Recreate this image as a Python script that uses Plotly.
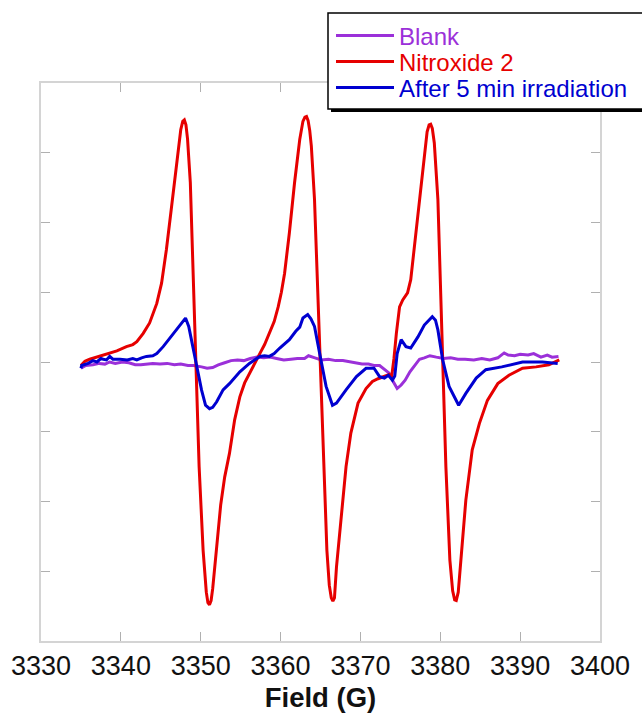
import plotly.graph_objects as go

# ---------------- data ----------------
blank_x = [3335.0, 3335.6, 3336.5, 3337.3, 3338.0, 3338.6, 3339.3, 3340.2, 3341.0, 3341.8,
           3342.5, 3343.3, 3344.0, 3344.9, 3345.8, 3346.7, 3347.5, 3348.4, 3349.1, 3350.1,
           3350.8, 3351.5, 3352.2, 3353.0, 3353.8, 3354.6, 3355.4, 3356.2, 3357.0, 3357.9,
           3358.7, 3359.5, 3360.4, 3361.3, 3362.1, 3363.0, 3363.5, 3364.3, 3365.1, 3366.0,
           3366.9, 3367.8, 3368.6, 3369.4, 3370.2, 3371.0, 3371.7, 3372.4, 3373.0, 3373.6,
           3374.1, 3374.6, 3375.1, 3375.6, 3376.2, 3376.8, 3377.4, 3378.0, 3378.7, 3379.5,
           3380.4, 3381.3, 3382.2, 3383.1, 3384.2, 3385.2, 3386.2, 3387.2, 3388.0, 3388.5,
           3389.3, 3390.0, 3391.0, 3391.7, 3392.6, 3393.4, 3394.0, 3394.8]
blank_y = [-0.09, -0.05, -0.04, -0.02, -0.03, 0.00, -0.02, 0.00, -0.01, -0.04,
           -0.04, -0.03, -0.02, -0.03, -0.02, -0.04, -0.03, -0.05, -0.05, -0.07,
           -0.09, -0.08, -0.04, -0.01, 0.02, 0.03, 0.02, 0.05, 0.07, 0.06,
           0.07, 0.05, 0.03, 0.04, 0.05, 0.05, 0.09, 0.06, 0.03, 0.04,
           0.02, 0.02, 0.00, -0.01, -0.03, -0.03, -0.05, -0.05, -0.10, -0.16,
           -0.28, -0.38, -0.33, -0.26, -0.14, -0.05, 0.04, 0.06, 0.09, 0.07,
           0.05, 0.06, 0.04, 0.04, 0.03, 0.05, 0.03, 0.06, 0.13, 0.10,
           0.09, 0.11, 0.10, 0.12, 0.07, 0.10, 0.07, 0.08]

nitro_x = [3335.0, 3335.5, 3336.1, 3337.0, 3337.8, 3338.6, 3339.5, 3340.7, 3341.5, 3342.0,
           3342.8, 3343.6, 3344.5, 3345.1, 3345.7, 3346.3, 3347.0, 3347.5, 3347.75, 3347.95,
           3348.15, 3348.35, 3348.7, 3349.0, 3349.4, 3349.8, 3350.3, 3350.7, 3350.9, 3351.1,
           3351.3, 3351.5, 3352.0, 3352.5,
           3353.0, 3353.6, 3354.25, 3354.9, 3355.5, 3356.1, 3356.8, 3357.4, 3358.0, 3358.6,
           3359.2, 3359.7, 3360.1, 3360.5, 3361.1, 3361.75, 3362.4, 3362.8, 3363.05, 3363.25,
           3363.45, 3363.65, 3363.85, 3364.25, 3364.7, 3364.95, 3365.4, 3365.8, 3366.1, 3366.35,
           3366.55, 3366.75, 3367.0,
           3367.6, 3368.2, 3368.8, 3369.7, 3370.7, 3371.5, 3372.2, 3372.8, 3373.6, 3373.9,
           3374.2, 3374.5, 3374.9, 3375.3, 3375.9, 3376.3, 3376.75, 3377.4, 3378.0, 3378.35,
           3378.6, 3378.8, 3379.0, 3379.25, 3379.7, 3380.0, 3380.3, 3380.7, 3381.2, 3381.55,
           3381.8, 3382.0, 3382.25, 3382.5, 3383.2, 3384.0, 3384.9, 3385.9, 3387.2, 3388.6,
           3390.3, 3392.0, 3393.6, 3394.9]
nitro_y = [-0.05, 0.01, 0.04, 0.07, 0.10, 0.13, 0.16, 0.22, 0.25, 0.29,
           0.41, 0.56, 0.84, 1.13, 1.61, 2.18, 2.85, 3.33, 3.45, 3.47,
           3.40, 3.20, 2.57, 1.37, -0.07, -1.50, -2.70, -3.30, -3.45, -3.48,
           -3.42, -3.25, -2.65, -2.05,
           -1.65, -1.31, -0.83, -0.50, -0.30, -0.16, -0.02, 0.12, 0.25, 0.41,
           0.58, 0.79, 1.00, 1.27, 1.85, 2.57, 3.19, 3.45, 3.51, 3.52,
           3.46, 3.32, 3.10, 2.33, 0.89, -0.07, -1.50, -2.70, -3.20, -3.38,
           -3.43, -3.38, -2.94,
           -2.22, -1.50, -1.02, -0.59, -0.38, -0.28, -0.24, -0.21, -0.18, -0.22,
           0.05, 0.41, 0.79, 0.89, 0.99, 1.18, 1.66, 2.33, 3.00, 3.30,
           3.40, 3.41, 3.35, 3.14, 2.33, 1.13, -0.07, -1.50, -2.84, -3.28,
           -3.41, -3.42, -3.30, -2.94, -1.98, -1.26, -0.88, -0.55, -0.31, -0.19,
           -0.09, -0.07, -0.04, 0.03]

irr_x = [3335.0, 3335.1, 3335.9, 3336.5, 3337.0, 3337.5, 3337.8, 3338.2, 3338.6, 3339.0,
         3339.9, 3340.8, 3341.5, 3342.0, 3342.6, 3343.2, 3344.0, 3344.5, 3345.3, 3346.1,
         3347.0, 3347.6, 3348.1, 3348.5, 3349.0, 3349.5, 3350.1, 3350.6, 3351.1, 3351.5,
         3352.0, 3352.8, 3353.6, 3354.9, 3356.1, 3357.4, 3358.0, 3358.6, 3359.2, 3359.9,
         3361.1, 3361.9, 3362.4, 3362.8, 3363.4, 3363.8, 3364.25, 3364.9, 3365.7, 3366.5,
         3367.0, 3368.2, 3369.5, 3370.7, 3371.7, 3372.4, 3373.0, 3373.5, 3374.0, 3374.3,
         3374.6, 3375.1, 3375.7, 3376.3, 3377.2, 3378.0, 3379.0, 3379.4, 3379.7, 3380.3,
         3381.1, 3382.3, 3383.2, 3384.5, 3385.7, 3387.7, 3390.3, 3392.8, 3394.7]
irr_y = [-0.09, -0.05, -0.02, 0.02, 0.00, 0.05, 0.04, 0.03, 0.08, 0.04,
         0.04, 0.03, 0.05, 0.03, 0.06, 0.08, 0.09, 0.12, 0.22, 0.34,
         0.48, 0.56, 0.63, 0.51, 0.22, -0.07, -0.40, -0.62, -0.67, -0.65,
         -0.57, -0.40, -0.31, -0.14, -0.02, 0.08, 0.09, 0.08, 0.12, 0.20,
         0.32, 0.44, 0.50, 0.63, 0.68, 0.62, 0.51, 0.12, -0.35, -0.62,
         -0.59, -0.40, -0.21, -0.09, -0.09, -0.21, -0.23, -0.19, -0.26, -0.20,
         0.12, 0.32, 0.22, 0.20, 0.36, 0.53, 0.65, 0.60, 0.46, 0.03,
         -0.35, -0.62, -0.45, -0.23, -0.11, -0.07, 0.00, 0.00, -0.02]

names = ["Blank", "Nitroxide 2", "After 5 min irradiation"]
colors = ["#9b30d9", "#e60000", "#0000d0"]

x_ticks = [3330, 3340, 3350, 3360, 3370, 3380, 3390, 3400]

# ---------------- figure ----------------
W, H = 642, 719
ML, MR, MT, MB = 41, 42, 83, 78
PW, PH = W - ML - MR, H - MT - MB


def px(xp):
    return (xp - ML) / PW


def py(yp):
    return (H - MB - yp) / PH


legend_ids = ["legend", "legend2", "legend3"]
legend_rows = [36, 62, 88]

fig = go.Figure()
for xs, ys, nm, c, lid in zip([blank_x, nitro_x, irr_x], [blank_y, nitro_y, irr_y],
                              names, colors, legend_ids):
    fig.add_trace(go.Scatter(
        x=xs, y=ys, mode="lines", line=dict(color=c, width=3),
        name=f"<span style='color:{c}'>{nm}</span>", legend=lid,
    ))

axis_common = dict(
    showline=True, linecolor="#d4d4d4", linewidth=1.5, mirror="ticks",
    ticks="inside", ticklen=9, tickcolor="#b0b0b0", tickwidth=1,
    showgrid=False, zeroline=False,
)

legend_layout = {}
for lid, row in zip(legend_ids, legend_rows):
    legend_layout[lid] = dict(
        x=px(331), y=py(row), xanchor="left", yanchor="middle",
        bgcolor="rgba(0,0,0,0)", borderwidth=0,
        font=dict(size=24, family="Arial, Liberation Sans, sans-serif"),
        itemwidth=58,
    )

fig.update_layout(
    width=W, height=H,
    margin=dict(l=ML, r=MR, t=MT, b=MB, autoexpand=False),
    paper_bgcolor="white", plot_bgcolor="white",
    font=dict(family="Arial, Liberation Sans, sans-serif", color="black"),
    xaxis=dict(range=[3330, 3400], tickvals=x_ticks, ticktext=[str(v) for v in x_ticks],
               tickfont=dict(size=27, color="#111111"),
               title=dict(text="<b>Field (G)</b>", font=dict(size=27.5, color="#111111"), standoff=8),
               **axis_common),
    yaxis=dict(range=[-4, 4], dtick=1, showticklabels=False, **axis_common),
    showlegend=True,
    shapes=[
        dict(type="rect", xref="paper", yref="paper", layer="above",
             x0=px(331), x1=px(650), y0=py(112), y1=py(16),
             fillcolor="black", line=dict(width=0)),
        dict(type="rect", xref="paper", yref="paper", layer="above",
             x0=px(328), x1=px(648), y0=py(109), y1=py(13),
             fillcolor="white", line=dict(color="black", width=1.5)),
    ],
    **legend_layout,
)

fig.write_html("out.html")
